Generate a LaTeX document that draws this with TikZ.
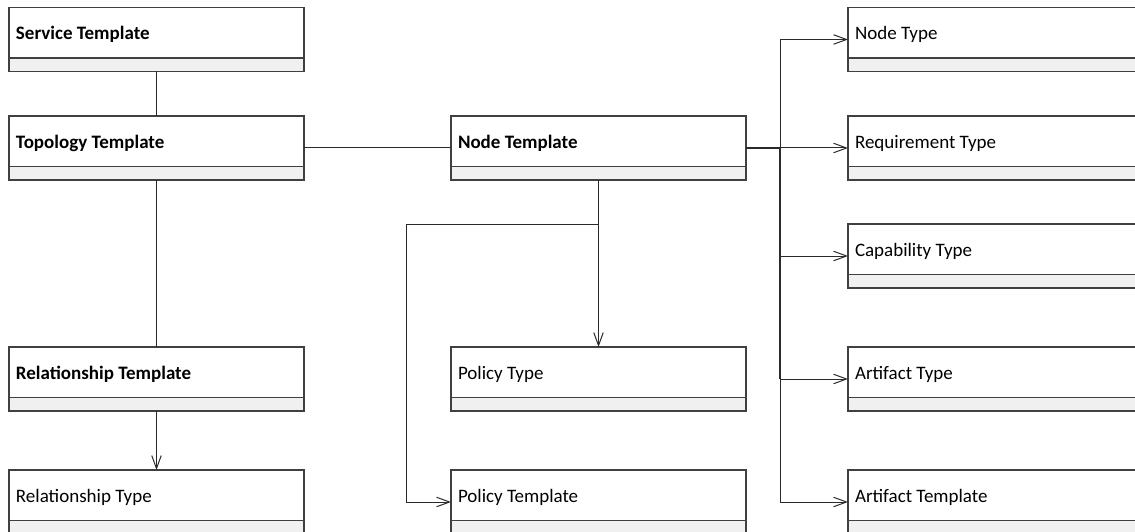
\documentclass[tikz,border=0pt]{standalone}
\usepackage{fontspec}
\setmainfont{Carlito}
\usetikzlibrary{arrows.meta}

\definecolor{boxline}{HTML}{404040}
\definecolor{compfill}{HTML}{F0F0F0}
\definecolor{wire}{HTML}{2A2A2A}

\tikzset{
  classbox/.style={
    draw=boxline, line width=1.4pt, fill=white,
    minimum width=295pt, minimum height=64pt, inner sep=0pt, outer sep=0pt,
    anchor=north west,
    path picture={
      \fill[compfill] ([yshift=13.5pt]path picture bounding box.south west)
        rectangle (path picture bounding box.south east);
      \draw[boxline, line width=1.4pt]
        ([yshift=13.5pt]path picture bounding box.south west) --
        ([yshift=13.5pt]path picture bounding box.south east);
    }
  },
  classname/.style={anchor=base west, inner sep=0pt, font=\fontsize{19}{23}\selectfont},
  link/.style={draw=wire, line width=1pt},
  assoc/.style={link, -{Straight Barb[length=13pt, width=9.5pt, line width=1pt]}},
  bundle/.style={draw=wire, line width=1.8pt}
}

% one class: name, top-left corner, title
\newcommand{\classnode}[4]{%
  \node[classbox] (#1) at (#2,#3) {};
  \node[classname] (#1-title) at ([xshift=6.8pt, yshift=-32.3pt]#1.north west) {#4};
}

\begin{document}
\begin{tikzpicture}[x=1pt, y=1pt]
  \useasboundingbox (0,0) rectangle (1135,-532);
  \clip (0,0) rectangle (1135,-532);

  % left column
  \classnode{svc}{9}{-7.5}{\textbf{Service Template}}
  \classnode{topo}{9}{-116}{\textbf{Topology Template}}
  \classnode{reltpl}{9}{-347}{\textbf{Relationship Template}}
  \classnode{reltype}{9}{-470}{Relationship Type}

  % middle column
  \classnode{nodetpl}{451}{-116}{\textbf{Node Template}}
  \classnode{poltype}{451}{-347}{Policy Type}
  \classnode{poltpl}{451}{-470}{Policy Template}

  % right column
  \classnode{nodetype}{848}{-7.5}{Node Type}
  \classnode{reqtype}{848}{-116}{Requirement Type}
  \classnode{captype}{848}{-224}{Capability Type}
  \classnode{arttype}{848}{-347}{Artifact Type}
  \classnode{arttpl}{848}{-470}{Artifact Template}

  % routing points
  \coordinate (trunk) at ([xshift=34pt]nodetpl.east);
  \coordinate (polbend) at ([yshift=-44pt]nodetpl.south -| 406,0);

  % plain associations
  \draw[link] (svc.south) -- (topo.north);
  \draw[link] (topo.south) -- (reltpl.north);
  \draw[link] (topo.east) -- (nodetpl.west);

  % directed associations
  \draw[assoc] (reltpl.south) -- (reltype.north);
  \draw[assoc] (nodetpl.south) -- (poltype.north);
  \draw[assoc] (nodetpl.south) |- (polbend) |- (poltpl.west);

  \draw[bundle] (nodetpl.east) -- (trunk) -- (trunk |- arttype.west);
  \draw[assoc] (nodetpl.east) -- (trunk) |- (nodetype.west);
  \draw[assoc] (nodetpl.east) -- (reqtype.west);
  \draw[assoc] (nodetpl.east) -- (trunk) |- (captype.west);
  \draw[assoc] (nodetpl.east) -- (trunk) |- (arttype.west);
  \draw[assoc] (nodetpl.east) -- (trunk) |- (arttpl.west);
\end{tikzpicture}
\end{document}
